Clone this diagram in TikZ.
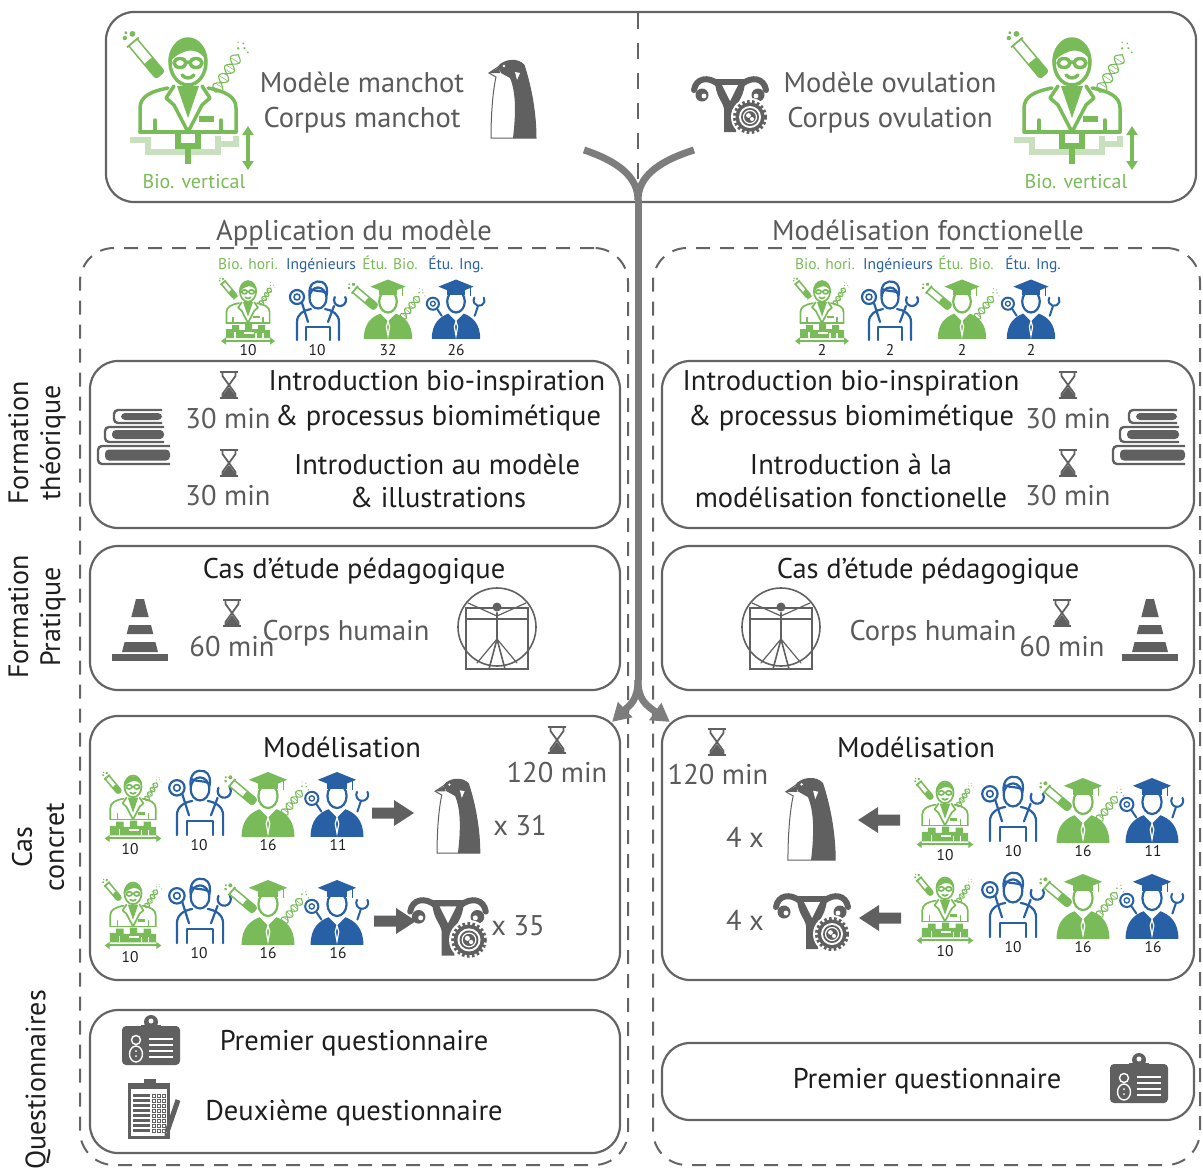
\documentclass[tikz,border=0pt]{standalone}
\usepackage{fontspec}
\setmainfont{PT Sans}
\usetikzlibrary{arrows.meta,calc}

\definecolor{gr}{RGB}{120,187,88}
\definecolor{bl}{RGB}{40,96,165}
\definecolor{lgr}{RGB}{200,224,190}
\definecolor{txg}{RGB}{90,90,90}
\definecolor{txk}{RGB}{30,30,30}
\definecolor{icg}{RGB}{96,96,96}
\definecolor{frm}{RGB}{100,100,100}
\definecolor{trk}{RGB}{125,125,125}

\tikzset{
  panel/.style={draw=frm, line width=2.2pt, rounded corners=28pt, rectangle, inner sep=0pt},
  group/.style={draw=frm, line width=2pt, dash pattern=on 14pt off 10pt, rounded corners=34pt, rectangle, inner sep=0pt},
  T/.style={font=\fontsize{28.5}{34}\selectfont, inner sep=0pt, anchor=base},
  tgrey/.style={T, text=txg},
  tblack/.style={T, text=txk},
  side/.style={font=\fontsize{28}{32}\selectfont, text=txk, inner sep=0pt, rotate=90, align=center},
  tag/.style={font=\fontsize{15.5}{17}\selectfont, inner sep=0pt, anchor=base},
  num/.style={font=\fontsize{15.5}{17}\selectfont, text=txk, inner sep=0pt, anchor=base},
  trunk/.style={draw=trk, line width=7pt},
  % ---------- icons ----------
  pics/hourglass/.style={code={
    \draw[icg, line width=2.4pt] (-9,-13) -- (9,-13) (-9,13) -- (9,13);
    \draw[icg, line width=1.8pt, line join=round] (-6.5,-13) -- (-6.5,-9) -- (6.5,9) -- (6.5,13)
         (6.5,-13) -- (6.5,-9) -- (-6.5,9) -- (-6.5,13);
    \fill[icg] (0,2) -- (6,10) -- (6,12) -- (-6,12) -- (-6,10) -- cycle;
  }},
  pics/penguin/.style={code={
    \begin{scope}[shift={(-23,-40)}]
      \filldraw[fill=white, draw=icg, line width=1pt] (0,15) -- (9,9) .. controls (15,1) and (29,0) .. (35,7)
        .. controls (42,28) and (47,55) .. (47,80) -- (2,80) .. controls (2,55) and (4,32) .. (7,19) -- cycle;
      \fill[icg] (9,9) .. controls (15,1) and (29,0) .. (35,7) .. controls (42,28) and (47,55) .. (47,80)
        -- (24,80) .. controls (27,55) and (27,34) .. (21,20) -- (12,15) -- cycle;
      \fill[icg] (0,15) -- (10,9.5) -- (11,15) -- cycle;
      \fill[white] (26,14) -- (31,15) -- (28,22) -- cycle;
      \fill[white] (15,8) circle (1.3);
    \end{scope}
  }},
  pics/uterus/.style={code={
    \draw[icg, line width=6pt, line cap=round] (-12,-15) .. controls (-22,-23) and (-34,-21) .. (-36,-9);
    \draw[icg, line width=6pt, line cap=round] (12,-15) .. controls (22,-23) and (34,-21) .. (36,-9);
    \fill[icg] (-28,-4) circle (6.5);
    \fill[icg] (28,-4) circle (6.5);
    \fill[white] (-26,-3) circle (2.4);
    \fill[white] (26,-3) circle (2.4);
    \fill[icg] (-15,-20) -- (15,-20) .. controls (15,-2) and (7,2) .. (6,10) -- (6,33) -- (-6,33) -- (-6,10)
       .. controls (-7,2) and (-15,-2) .. (-15,-20) -- cycle;
    \fill[white] (-8,-14) -- (8,-14) -- (0,2) -- cycle;
    \begin{scope}[shift={(20,18)}]
      \fill[white] (0,0) circle (19);
      \draw[icg, line width=3pt, dash pattern=on 2.6pt off 2.4pt] (0,0) circle (15.5);
      \fill[icg] (0,0) circle (14.5);
      \fill[white] (0,0) circle (11);
      \fill[icg] (0,0) circle (9);
      \draw[white, line width=1.2pt] (0,0) circle (6.5);
      \fill[white] (-1.5,-1.5) circle (2.4) (2,2) circle (2);
    \end{scope}
  }},
  pics/tube/.style={code={
    \draw[gr, line width=1.5pt, rounded corners=2.5pt] (-12,-3.2) -- (13,-3.2) -- (13,3.2) -- (-12,3.2);
    \draw[gr, line width=1.8pt] (-12,-4.5) -- (-12,4.5);
    \fill[gr, rounded corners=2pt] (2,-3.2) rectangle (13,3.2);
    \fill[gr] (-16,-3) circle (1.7) (-17,2) circle (1.3) (-19,-0.5) circle (1);
  }},
  pics/dna/.style={code={
    \draw[gr, line width=1.1pt] plot[domain=0:26, samples=27, smooth] (\x,{3.2*sin(\x*28)});
    \draw[gr, line width=1.1pt] plot[domain=0:26, samples=27, smooth] (\x,{-3.2*sin(\x*28)});
    \foreach \t in {2,4.5,...,24} \draw[gr, line width=0.5pt] (\t,{3.2*sin(\t*28)}) -- (\t,{-3.2*sin(\t*28)});
    \fill[gr] (29,-2) circle (0.8) (31,1) circle (0.7) (30,4) circle (0.6) (33,-1) circle (0.6) (32,-4) circle (0.5);
  }},
  % scientist in lab coat; the argument is the stroke width
  pics/sci/.style={code={
    \begin{scope}[gr, line width=#1pt, line join=round, line cap=round]
      \draw (0,-28) ellipse (18 and 23);
      \fill (-19,-26) .. controls (-24,-56) and (22,-58) .. (19,-26) .. controls (16,-38) and (4,-42) .. (-4,-38)
         .. controls (-10,-36) and (-16,-32) .. (-19,-26) -- cycle;
      \draw (-8,-27) ellipse (6 and 4.5) (8,-27) ellipse (6 and 4.5) (-2,-28) -- (2,-28);
      \draw (-6,-15) .. controls (-2,-11) and (2,-11) .. (6,-15);
      \draw (-48,42) -- (-48,18) .. controls (-48,6) and (-36,1) .. (-20,-2);
      \draw (48,42) -- (48,18) .. controls (48,6) and (36,1) .. (20,-2);
      \draw (-48,42) -- (48,42);
      \fill (-11,-4) -- (11,-4) -- (0,28) -- cycle;
      \draw (-14,-4) -- (-22,8) -- (-14,15) -- (0,42);
      \draw (14,-4) -- (22,8) -- (14,15) -- (0,42);
      \draw (-33,30) -- (-33,42) (33,30) -- (33,42);
      \fill (11,26) rectangle (26,32);
    \end{scope}
    \pic[transform shape, rotate=-50, scale=1.7] at (-42,-32) {tube};
    \pic[transform shape, rotate=58, scale=1.7] at (27,2) {dna};
  }},
  pics/vtree/.style={code={
    \draw[lgr, line width=6pt] (-58,50) -- (-40,50) -- (-40,62) -- (30,62) -- (30,46) (30,54) -- (48,54) -- (48,46);
    \draw[gr, line width=6pt] (-10,44) -- (-10,56) -- (10,56) -- (10,44) (0,56) -- (0,74);
    \draw[gr, line width=3.5pt, {Triangle[length=9pt,width=11pt]}-{Triangle[length=9pt,width=11pt]}] (60,36) -- (60,80);
  }},
  pics/biovert/.style={code={
    \pic[transform shape] {sci=3.5};
    \pic[transform shape] {vtree};
  }},
  pics/biohori/.style={code={
    \pic[transform shape, scale=0.45] at (0,-8) {sci=1.7};
    \fill[gr] (-22,26) -- (-22,17) -- (-16,17) -- (-16,13) -- (-9,13) -- (-9,18) -- (-3,18) -- (-3,12) -- (4,12)
       -- (4,17) -- (10,17) -- (10,13) -- (17,13) -- (17,18) -- (22,18) -- (22,26) -- cycle;
    \draw[white, line width=1.2pt] (-13,20) -- (-13,26) (-4,21) -- (6,21) (8,21) -- (8,26) (15,21) -- (15,26);
    \draw[gr, line width=2pt, {Triangle[length=5pt,width=7pt]}-{Triangle[length=5pt,width=7pt]}] (-27,29) -- (27,29);
  }},
  pics/engineer/.style={code={
    \begin{scope}[bl, line width=2.2pt, line cap=round, line join=round]
      \draw (0,-11) ellipse (8.5 and 10.5);
      \draw (-8.5,-13) .. controls (-10,-26) and (-2,-29) .. (4,-27) .. controls (9,-25) and (10,-19) .. (8.5,-13);
      \draw (-8,-20) .. controls (-2,-17) and (4,-19) .. (8,-16);
      \draw (-21,31) -- (-21,13) .. controls (-21,5) and (-14,1) .. (-7,0);
      \draw (21,31) -- (21,13) .. controls (21,5) and (14,1) .. (7,0);
      \draw (-12,31) -- (-12,18) -- (12,18) -- (12,31);
      \draw (-21,-12) circle (7);
      \draw[line width=1.6pt] (-21,-12) circle (3);
      \draw (-16,-6) -- (-10,13);
      \draw (16,-3) -- (10,13);
      \draw (22,-9) ++(-30:6) arc[start angle=-30, end angle=210, radius=6];
    \end{scope}
  }},
  pics/student/.style={code={
    \fill[#1] (-22,29) .. controls (-22,15) and (-15,9) .. (-7,6) -- (0,13) -- (7,6) .. controls (15,9) and (22,15) .. (22,29) -- cycle;
    \draw[white, line width=1.2pt] (0,13) -- (-1.5,18) -- (0,26) -- (1.5,18) -- cycle;
    \filldraw[fill=white, draw=#1, line width=2.2pt] (0,-5) ellipse (8 and 10);
    \fill[#1] (-8,-17) rectangle (8,-11);
    \fill[#1] (-16,-18.5) -- (0,-25) -- (16,-18.5) -- (0,-12) -- cycle;
    \draw[#1, line width=1pt] (13,-18) -- (13,-10);
  }},
  pics/etuing/.style={code={
    \pic[transform shape] {student=bl};
    \begin{scope}[bl, line width=2pt, line cap=round]
      \draw (-21,-3) circle (5.5);
      \draw[line width=1.3pt] (-21,-3) circle (2.2);
      \draw (-17,2) -- (-13,8);
      \draw (17,8) -- (20,-1);
      \draw (21,-6) ++(-30:5) arc[start angle=-30, end angle=210, radius=5];
    \end{scope}
  }},
  pics/etubio/.style={code={
    \pic[transform shape] {student=gr};
    \pic[transform shape, rotate=-40] at (-21,-8) {tube};
    \pic[transform shape, rotate=52] at (12,11) {dna};
  }},
  pics/books/.style={code={
    \begin{scope}[icg, line width=2.4pt, rounded corners=4pt]
      \draw (28,-27) -- (-20,-27) -- (-20,-14) -- (28,-14);
      \fill (-13,-24) rectangle (28,-17);
      \draw (30,-10) -- (-29,-10) -- (-29,5) -- (30,5);
      \fill (-22,-7) rectangle (30,2);
      \draw (36,9) -- (-36,9) -- (-36,27) -- (36,27);
      \fill (-29,12.5) rectangle (36,23.5);
    \end{scope}
  }},
  pics/cone/.style={code={
    \fill[icg] (-28,24) rectangle (28,31);
    \fill[icg] (-4,-31) -- (4,-31) -- (8.7,-13) -- (-8.7,-13) -- cycle;
    \fill[icg] (-11,-5) -- (11,-5) -- (13.3,4) -- (-13.3,4) -- cycle;
    \fill[icg] (-15.4,12) -- (15.4,12) -- (18,22) -- (-18,22) -- cycle;
  }},
  pics/vitru/.style={code={
    \begin{scope}[icg, line width=1.6pt, line cap=round]
      \draw (0,0) circle (39);
      \draw (-31,-19) rectangle (31,42);
      \fill (0,-20) circle (4.5);
      \draw[line width=2.5pt] (0,-14) -- (0,12);
      \draw (-31,-8) -- (31,-8);
      \draw[line width=1.2pt] (-29,-24) -- (0,-11) -- (29,-24);
      \draw (0,12) -- (-8,42) (0,12) -- (8,42);
      \draw[line width=1.2pt] (0,12) -- (-20,36) (0,12) -- (20,36);
    \end{scope}
  }},
  pics/badge/.style={code={
    \fill[icg, rounded corners=4pt] (-29,-14) rectangle (29,25);
    \fill[icg] (-10,-15) rectangle (10,-8);
    \fill[icg] (0,-18) circle (7);
    \fill[white] (0,-19) circle (2.5);
    \draw[white, line width=1.4pt] (-15,0) circle (4.5);
    \draw[white, line width=1.4pt] (-15,14) ellipse (6.5 and 8);
    \fill[white] (-15,11) circle (1) (-15,16) circle (1);
    \foreach \yy in {-1,5,11,17} \draw[white, line width=2pt] (-2,\yy) -- (22,\yy);
  }},
  pics/clipb/.style={code={
    \fill[icg] (-24,-25) rectangle (18,31);
    \fill[white] (-21,-19) rectangle (15,28);
    \fill[icg] (-8,-29) rectangle (4,-20);
    \foreach \yy in {-14,-9,...,24} \fill[icg] (-19,\yy) rectangle (-2,\yy+3);
    \foreach \yy in {-14,-9,...,24} \foreach \xx in {0,5,10} \draw[icg, line width=0.6pt] (\xx,\yy) rectangle (\xx+3.5,\yy+3.5);
    \draw[icg, line width=5pt] (15,24) -- (26,-8);
    \fill[icg] (12.5,31) -- (12.8,24) -- (17.5,25.6) -- cycle;
  }},
  pics/barrow/.style={code={
    \fill[icg] (-21,-5.5) -- (1,-5.5) -- (1,-13) -- (21,0) -- (1,13) -- (1,5.5) -- (-21,5.5) -- cycle;
  }},
}

\begin{document}
\begin{tikzpicture}[x=1pt, y=-1pt]
\useasboundingbox (0,0) rectangle (1203,1171);

% ---------- frames ----------
\node[panel, minimum width=1090pt, minimum height=190pt] (top) at (651,107) {};
\draw[frm, line width=2pt, dash pattern=on 16pt off 14pt] (638,13) -- (638,201);

\node[group, minimum width=548pt, minimum height=917pt] (gL) at (354,706.5) {};
\node[group, minimum width=547pt, minimum height=917pt] (gR) at (926.5,706.5) {};

\node[panel, minimum width=530pt, minimum height=167pt] (ftL) at (355,444.5) {};
\node[panel, minimum width=530pt, minimum height=144pt] (fpL) at (355,618) {};
\node[panel, minimum width=530pt, minimum height=264pt] (ccL) at (355,848) {};
\node[panel, minimum width=530pt, minimum height=143pt] (qL) at (355,1081.5) {};

\node[panel, minimum width=532pt, minimum height=167pt] (ftR) at (928,444.5) {};
\node[panel, minimum width=532pt, minimum height=144pt] (fpR) at (928,618) {};
\node[panel, minimum width=532pt, minimum height=264pt] (ccR) at (928,848) {};
\node[panel, minimum width=532pt, minimum height=77pt] (qR) at (928,1081.5) {};

% ---------- top panel ----------
\pic at (188,90) {biovert};
\node[font=\fontsize{20}{24}\selectfont, text=gr, inner sep=0pt, anchor=base] (bvL) at (194,188) {Bio. vertical};
\node[tgrey] (mm) at (362,92) {Modèle manchot};
\node[tgrey] (cm) at (362,127) {Corpus manchot};
\pic at (512,98) {penguin};

\pic at (730,99) {uterus};
\node[tgrey] (mo) at (890,92) {Modèle ovulation};
\node[tgrey] (co) at (890,127) {Corpus ovulation};
\pic at (1072,90) {biovert};
\node[font=\fontsize{20}{24}\selectfont, text=gr, inner sep=0pt, anchor=base] (bvR) at (1076,188) {Bio. vertical};

% ---------- group titles ----------
\node[tgrey] (appL) at (354,240) {Application du modèle};
\node[tgrey] (modR) at (928,240) {Modélisation fonctionelle};

% ---------- side labels ----------
\node[side] (sFT) at (37,443) {Formation\\théorique};
\node[side] (sFP) at (37,617) {Formation\\Pratique};
\node[side] (sCC) at (38,847) {Cas\\concret};
\node[side] (sQ) at (38,1080) {Questionnaires};

% ---------- participants ----------
\node[tag, text=gr] (tL1) at (248,269) {Bio. hori.};
\node[tag, text=bl] (tL2) at (321,269) {Ingénieurs};
\node[tag, text=gr] (tL3) at (390,269) {Étu. Bio.};
\node[tag, text=bl] (tL4) at (456,269) {Étu. Ing.};
\pic at (248,312) {biohori};
\pic at (318,309) {engineer};
\pic[scale=1.1] at (388,307) {etubio};
\pic[scale=1.1] at (456,307) {etuing};
\node[num] (nL1) at (248,355) {10};
\node[num] (nL2) at (317,355) {10};
\node[num] (nL3) at (388,355) {32};
\node[num] (nL4) at (456,355) {26};

\node[tag, text=gr] (tR1) at (825,269) {Bio. hori.};
\node[tag, text=bl] (tR2) at (898,269) {Ingénieurs};
\node[tag, text=gr] (tR3) at (966,269) {Étu. Bio.};
\node[tag, text=bl] (tR4) at (1033,269) {Étu. Ing.};
\pic at (822,312) {biohori};
\pic at (890,309) {engineer};
\pic[scale=1.1] at (962,307) {etubio};
\pic[scale=1.1] at (1031,307) {etuing};
\node[num] (nR1) at (822,355) {2};
\node[num] (nR2) at (890,355) {2};
\node[num] (nR3) at (962,355) {2};
\node[num] (nR4) at (1031,355) {2};

% ---------- formation théorique ----------
\pic at (134,437) {books};
\pic at (229,385) {hourglass};
\node[tgrey] (m30a) at (228,428) {30 min};
\pic at (229,463) {hourglass};
\node[tgrey] (m30b) at (228,505) {30 min};
\node[tblack] (iL1) at (437,390) {Introduction bio-inspiration};
\node[tblack] (iL2) at (438,425) {\& processus biomimétique};
\node[tblack] (iL3) at (437,474) {Introduction au modèle};
\node[tblack] (iL4) at (438,507) {\& illustrations};

\node[tblack] (iR1) at (851,390) {Introduction bio-inspiration};
\node[tblack] (iR2) at (851,425) {\& processus biomimétique};
\node[tblack] (iR3) at (851,474) {Introduction à la};
\node[tblack] (iR4) at (851,507) {modélisation fonctionelle};
\pic at (1068,385) {hourglass};
\node[tgrey] (m30c) at (1068,428) {30 min};
\pic at (1068,463) {hourglass};
\node[tgrey] (m30d) at (1068,505) {30 min};
\pic at (1149,437) {books};

% ---------- formation pratique ----------
\node[tblack] (cdL) at (354,578) {Cas d’étude pédagogique};
\pic at (140,630) {cone};
\pic at (232,613) {hourglass};
\node[tgrey] (m60L) at (232,656) {60 min};
\node[tgrey] (chL) at (346,640) {Corps humain};
\pic at (497,627) {vitru};

\node[tblack] (cdR) at (928,578) {Cas d’étude pédagogique};
\pic at (781,627) {vitru};
\node[tgrey] (chR) at (933,640) {Corps humain};
\pic at (1062,613) {hourglass};
\node[tgrey] (m60R) at (1062,656) {60 min};
\pic at (1150,630) {cone};

% ---------- cas concret, left ----------
\node[tblack] (moL) at (342,757) {Modélisation};
\pic at (557,740) {hourglass};
\node[tgrey] (m120L) at (557,782) {120 min};

\pic[scale=1.05] at (133,808) {biohori};
\pic[scale=1.1] at (200,801) {engineer};
\pic[scale=1.2] at (268,802) {etubio};
\pic[scale=1.2] at (337,802) {etuing};
\node[num] (a1) at (130,854) {10};
\node[num] (a2) at (199,850) {10};
\node[num] (a3) at (268,850) {16};
\node[num] (a4) at (338,850) {11};
\pic at (393,813) {barrow};
\pic[scale=0.95] at (457,815) {penguin};
\node[tgrey] (x31) at (520,835) {x 31};

\pic[scale=1.05] at (133,915) {biohori};
\pic[scale=1.1] at (200,909) {engineer};
\pic[scale=1.2] at (268,910) {etubio};
\pic[scale=1.2] at (337,910) {etuing};
\node[num] (b1) at (130,962) {10};
\node[num] (b2) at (199,958) {10};
\node[num] (b3) at (268,958) {16};
\node[num] (b4) at (338,958) {16};
\pic at (395,921) {barrow};
\pic[scale=1.05] at (448,921) {uterus};
\node[tgrey] (x35) at (518,935) {x 35};

% ---------- cas concret, right ----------
\pic at (717,742) {hourglass};
\node[tgrey] (m120R) at (718,784) {120 min};
\node[tblack] (moR) at (916,757) {Modélisation};

\node[tgrey] (f4a) at (745,847) {4 x};
\pic[scale=1.05] at (810,818) {penguin};
\pic[xscale=-1] at (879,820) {barrow};
\pic[scale=1.05] at (945,814) {biohori};
\pic[scale=1.1] at (1013,807) {engineer};
\pic[scale=1.2] at (1083,808) {etubio};
\pic[scale=1.2] at (1152,808) {etuing};
\node[num] (c1) at (945,860) {10};
\node[num] (c2) at (1013,856) {10};
\node[num] (c3) at (1083,856) {16};
\node[num] (c4) at (1153,856) {11};

\node[tgrey] (f4b) at (745,930) {4 x};
\pic at (812,916) {uterus};
\pic[xscale=-1] at (880,918) {barrow};
\pic[scale=1.05] at (945,910) {biohori};
\pic[scale=1.1] at (1013,903) {engineer};
\pic[scale=1.2] at (1083,904) {etubio};
\pic[scale=1.2] at (1152,904) {etuing};
\node[num] (d1) at (945,956) {10};
\node[num] (d2) at (1013,952) {10};
\node[num] (d3) at (1083,952) {16};
\node[num] (d4) at (1153,952) {16};

% ---------- questionnaires ----------
\pic at (151,1040) {badge};
\node[tblack] (q1L) at (354,1050) {Premier questionnaire};
\pic at (152,1108) {clipb};
\node[tblack] (q2L) at (354,1120) {Deuxième questionnaire};

\node[tblack] (q1R) at (927,1088) {Premier questionnaire};
\pic at (1139,1078) {badge};

% ---------- shared flow from the models into both exercises ----------
\coordinate (brL) at (584,150);
\coordinate (brR) at (694,150);
\coordinate (fork) at (638,200);
\coordinate (split) at (638,680);
\draw[trunk] (brL) .. controls (620,162) and (638,178) .. (fork);
\draw[trunk] (brR) .. controls (656,162) and (638,178) .. (fork);
\draw[trunk] (fork) -- (split);
\draw[trunk, -{Triangle[length=18pt,width=20pt]}] (split) .. controls (638,700) and (630,705) .. ($(ccL.north east)+(-9,7)$);
\draw[trunk, -{Triangle[length=18pt,width=20pt]}] (split) .. controls (638,700) and (646,705) .. ($(ccR.north west)+(9,7)$);
\end{tikzpicture}
\end{document}
